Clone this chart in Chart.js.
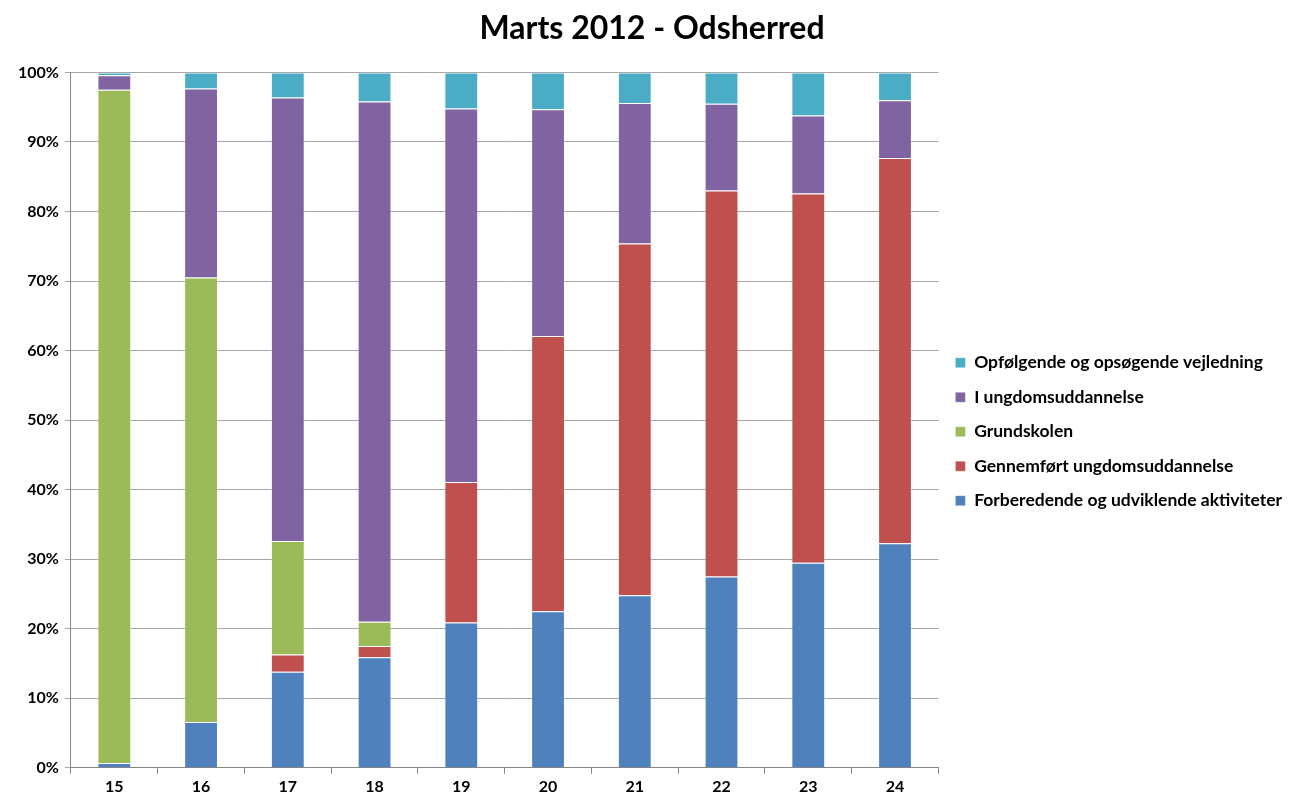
<!DOCTYPE html>
<html lang="da">
<head>
    <meta charset="utf-8" />
    <title>Marts 2012 - Odsherred</title>
    <script src="https://cdn.jsdelivr.net/npm/chart.js"></script>
    <style>
        body { margin: 0; background: #ffffff; }
        #wrap { width: 1298px; height: 800px; }
    </style>
</head>
<body>
    <div id="wrap"><canvas id="chart" width="1298" height="800"></canvas></div>

    <script>
        // alder (x-akse)
        const ages = ['15', '16', '17', '18', '19', '20', '21', '22', '23', '24'];

        // andele i procent, læst af figuren
        const forberedende = [0.7, 6.6, 13.8, 15.9, 20.9, 22.5, 24.8, 27.5, 29.5, 32.3];
        const gennemfoert  = [0.0, 0.0, 2.5, 1.6, 20.2, 39.6, 50.6, 55.5, 53.1, 55.4];
        const grundskolen  = [96.8, 63.9, 16.3, 3.5, 0.0, 0.0, 0.0, 0.0, 0.0, 0.0];
        const iUngdom      = [2.1, 27.2, 63.8, 74.8, 53.7, 32.6, 20.2, 12.5, 11.2, 8.3];
        const opfoelgende  = [0.4, 2.3, 3.6, 4.2, 5.2, 5.3, 4.4, 4.5, 6.2, 4.0];

        const yTicks = [0, 10, 20, 30, 40, 50, 60, 70, 80, 90, 100];

        const font = 'Lato, "Open Sans", sans-serif';

        function bar(label, data, color) {
            return {
                label: label,
                data: data,
                backgroundColor: color,
                borderColor: 'rgba(255,255,255,0.35)',
                borderWidth: 1,
                barPercentage: 0.39,
                categoryPercentage: 1.0
            };
        }

        const config = {
            type: 'bar',
            data: {
                labels: ages,
                datasets: [
                    bar('Forberedende og udviklende aktiviteter', forberedende, '#4F81BD'),
                    bar('Gennemført ungdomsuddannelse', gennemfoert, '#C0504D'),
                    bar('Grundskolen', grundskolen, '#9BBB59'),
                    bar('I ungdomsuddannelse', iUngdom, '#8064A2'),
                    bar('Opfølgende og opsøgende vejledning', opfoelgende, '#4BACC6')
                ]
            },
            options: {
                responsive: false,
                animation: false,
                layout: { padding: { left: 12, right: 6, top: 0, bottom: 1 } },
                scales: {
                    x: {
                        stacked: true,
                        grid: {
                            display: true,
                            drawOnChartArea: false,
                            drawTicks: true,
                            tickLength: 6,
                            offset: true,
                            color: '#868686'
                        },
                        border: { color: '#868686' },
                        ticks: {
                            color: '#000000',
                            padding: 3,
                            font: { family: font, size: 16, weight: 'bold' }
                        }
                    },
                    y: {
                        stacked: true,
                        min: 0,
                        max: 100,
                        afterBuildTicks: function (axis) {
                            axis.ticks = yTicks.map(function (v) { return { value: v }; });
                        },
                        grid: {
                            color: '#a6a6a6',
                            tickLength: 6
                        },
                        border: { color: '#868686' },
                        ticks: {
                            color: '#000000',
                            padding: 6,
                            font: { family: font, size: 16, weight: 'bold' },
                            callback: function (v) { return v + '%'; }
                        }
                    }
                },
                plugins: {
                    title: {
                        display: true,
                        text: 'Marts 2012 - Odsherred',
                        color: '#000000',
                        font: { family: font, size: 32, weight: 'bold' },
                        padding: { top: 9, bottom: 25 }
                    },
                    legend: {
                        position: 'right',
                        reverse: true,
                        maxWidth: 420,
                        title: {
                            display: true,
                            text: ' ',
                            font: { size: 12 },
                            padding: { top: 50, bottom: 0 }
                        },
                        labels: {
                            color: '#000000',
                            boxWidth: 10,
                            boxHeight: 10,
                            padding: 17,
                            font: { family: font, size: 17.5, weight: 'bold' }
                        }
                    },
                    tooltip: { enabled: false }
                }
            }
        };

        new Chart(document.getElementById('chart'), config);
    </script>
</body>
</html>
